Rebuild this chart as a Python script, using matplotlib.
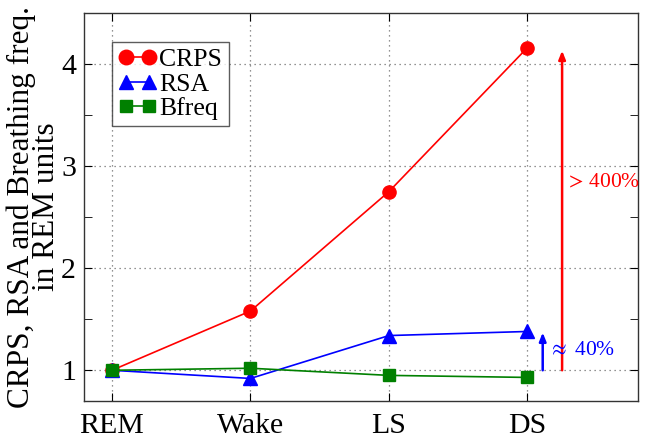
import matplotlib
matplotlib.use("Agg")
import matplotlib.pyplot as plt
from matplotlib.ticker import MultipleLocator

stages = ["REM", "Wake", "LS", "DS"]
crps = [1.0, 1.58, 2.75, 4.16]
rsa = [1.0, 0.92, 1.34, 1.38]
bfreq = [1.0, 1.02, 0.95, 0.93]

plt.rcParams['font.family'] = ['Liberation Serif', 'DejaVu Serif']
plt.rcParams['mathtext.fontset'] = 'stix'

fig = plt.figure(figsize=(6.48, 4.43), dpi=100)
ax = fig.add_axes([0.130, 0.095, 0.855, 0.876])
x = list(range(len(stages)))

ax.plot(x, crps, color='#ff0000', marker='o', markersize=9.5, lw=1.2, label='CRPS', zorder=3)
ax.plot(x, rsa, color='#0000ff', marker='^', markersize=9.5, lw=1.2, label='RSA', zorder=3)
ax.plot(x, bfreq, color='#008000', marker='s', markersize=8.5, lw=1.2, label='Bfreq', zorder=4)

ax.set_xlim(-0.2, 3.8)
ax.set_ylim(0.7, 4.5)
ax.set_xticks(x)
ax.set_xticklabels(stages)
ax.set_yticks([1, 2, 3, 4])
ax.yaxis.set_minor_locator(MultipleLocator(0.5))
ax.tick_params(axis='both', which='both', direction='in', right=True, top=True, labelsize=21.5)
ax.tick_params(axis='both', which='major', length=6, pad=6)
ax.tick_params(axis='x', which='major', pad=9)
ax.tick_params(axis='y', which='minor', length=6)
ax.grid(True, which='major', linestyle=(0, (1, 3)), color='#707070', lw=0.9)
for s in ax.spines.values():
    s.set_color('#333333')
    s.set_linewidth(1.0)

ax.set_ylabel("CRPS, RSA and Breathing freq.\nin REM units", fontsize=22.5, linespacing=0.82, labelpad=0)

ax.annotate('', xy=(3.25, 4.13), xytext=(3.25, 1.0),
            arrowprops=dict(arrowstyle='-|>,head_length=0.5,head_width=0.2', color='#ff0000', lw=1.8, shrinkA=0, shrinkB=0))
ax.annotate('', xy=(3.11, 1.37), xytext=(3.11, 1.0),
            arrowprops=dict(arrowstyle='-|>,head_length=0.5,head_width=0.2', color='#0000ff', lw=1.8, shrinkA=0, shrinkB=0))
ax.text(3.27, 2.83, r'$>\,$400%', color='#ff0000', fontsize=15.5, va='center', ha='left')
ax.text(3.15, 1.19, r'$\approx$ 40%', color='#0000ff', fontsize=15.5, va='center', ha='left')

leg = ax.legend(loc='upper left', bbox_to_anchor=(0.05, 0.925), fontsize=18.5, frameon=True, fancybox=False,
                handlelength=1.5, handletextpad=0.1, borderpad=0.25, labelspacing=0.05, borderaxespad=0,
                numpoints=2, markerscale=1.1)
leg.get_frame().set_edgecolor('#333333')
leg.get_frame().set_linewidth(1.0)

fig.savefig('out.png', dpi=100)
